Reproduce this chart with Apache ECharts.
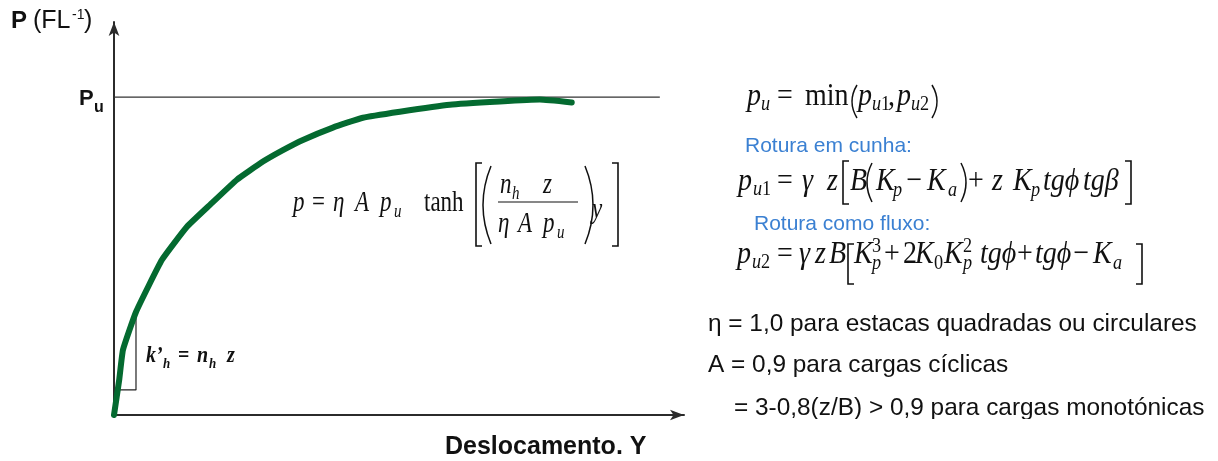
<!DOCTYPE html>
<html>
<head>
<meta charset="utf-8">
<script src="https://cdn.jsdelivr.net/npm/echarts@6/dist/echarts.min.js"></script>
<style>
  html, body { margin: 0; padding: 0; background: #fff; }
  #chart { width: 1218px; height: 461px; }
</style>
</head>
<body>
<div id="chart"></div>
<script>
// p-y curve: lateral displacement Y against soil reaction P (P expressed as a fraction of Pu)
const displacement = [0, 0.9, 1.56, 3.82, 8.33, 12.67, 16.67, 21.35, 25.87, 29.34, 32.81, 38.02, 43.23, 49.65, 58.33, 67.0, 73.96, 79.5];
const reaction     = [0, 0.11, 0.205, 0.324, 0.488, 0.592, 0.661, 0.740, 0.797, 0.833, 0.865, 0.904, 0.935, 0.954, 0.976, 0.986, 0.992, 0.983];

// ultimate resistance Pu and the extent of its reference line
const ultimate = 1;
const ultimateLineEnd = [0, 94.8];

// initial stiffness triangle k'h = nh z
const slopeX = [0.7, 3.82, 3.82];
const slopeY = [0.079, 0.079, 0.324];

const xMax = 99;
const yMax = 1.236;

const SERIF = '"Liberation Serif", "Times New Roman", serif';
const SANS = '"Liberation Sans", Arial, sans-serif';

// one glyph run placed on a baseline (optionally stretched vertically about that baseline)
function run(x, base, text, size, o) {
  o = o || {};
  const sy = o.sy || 1;
  return {
    type: 'text', x: x, y: base - 0.34 * size * sy, scaleY: sy, silent: true, z: 10,
    style: {
      text: text,
      fontSize: size,
      fontFamily: o.family || SERIF,
      fontStyle: o.italic ? 'italic' : 'normal',
      fontWeight: o.bold ? 'bold' : 'normal',
      fill: o.color || '#111',
      align: 'left', verticalAlign: 'middle',
      textAlign: 'left', textVerticalAlign: 'middle'
    }
  };
}

// formula tokens: [x, baseline shift, text, size factor, style flags]
function formula(base, size, sy, tokens, bold) {
  return tokens.map(function (t) {
    const flags = t[4] || 'i';
    return run(t[0], base + t[1], t[2], size * t[3], {
      italic: flags.indexOf('i') >= 0,
      bold: bold,
      sy: sy
    });
  });
}

function stroke(points, w) {
  return { type: 'polyline', silent: true, z: 10, shape: { points: points },
           style: { stroke: '#111', lineWidth: w || 1.3, fill: null } };
}
function paren(x, y0, y1, bulge) {
  return { type: 'bezierCurve', silent: true, z: 10,
           shape: { x1: x, y1: y0, x2: x, y2: y1, cpx1: x + bulge, cpy1: (y0 + y1) / 2 },
           style: { stroke: '#111', lineWidth: 1.5, fill: null } };
}
function bracket(x, y0, y1, dir) {
  return stroke([[x + 6 * dir, y0], [x, y0], [x, y1], [x + 6 * dir, y1]], 1.6);
}

const graphics = [];

// axis captions
graphics.push(run(11, 30, 'P', 24, { family: SANS, bold: true }));
graphics.push(run(33, 30, '(FL', 25, { family: SANS }));
graphics.push(run(72, 20, '-1', 14, { family: SANS }));
graphics.push(run(84, 30, ')', 25, { family: SANS }));
graphics.push(run(79, 106, 'P', 22, { family: SANS, bold: true }));
graphics.push(run(94, 113, 'u', 16, { family: SANS, bold: true }));
graphics.push(run(445, 456, 'Deslocamento. Y', 25, { family: SANS, bold: true }));

// k'h = nh z
graphics.push.apply(graphics, formula(364, 20, 1.15, [
  [146, 0, 'k', 1], [156, 0, '\u2019', 1], [163, 5, 'h', 0.65],
  [178, 0, '=', 1, 'r'], [197, 0, 'n', 1], [209, 5, 'h', 0.65], [227, 0, 'z', 1]
], true));

// p = eta A pu tanh[(nh z / eta A pu) y]
const SY = 1.3;
graphics.push.apply(graphics, formula(213, 23, SY, [
  [293, 0, 'p', 1], [312, 0, '=', 1, 'r'], [333, 0, '\u03b7', 1], [355, 0, 'A', 1],
  [380, 0, 'p', 1], [394, 5, 'u', 0.65], [424, 0, 'tanh', 1, 'r']
]));
graphics.push.apply(graphics, formula(195, 23, SY, [
  [500, 0, 'n', 1], [512, 5, 'h', 0.65], [543, 0, 'z', 1]
]));
graphics.push.apply(graphics, formula(234, 23, SY, [
  [498, 0, '\u03b7', 1], [518, 0, 'A', 1], [543, 0, 'p', 1], [557, 5, 'u', 0.65]
]));
graphics.push.apply(graphics, formula(220, 23, SY, [[592, 0, 'y', 1]]));
graphics.push(stroke([[498, 202], [578, 202]], 1.2));
graphics.push(bracket(476, 163, 246, 1));
graphics.push(bracket(618, 163, 246, -1));
graphics.push(paren(491, 166, 244, -16));
graphics.push(paren(585, 166, 244, 16));

// pu = min(pu1, pu2)
const SR = 1.15;
graphics.push.apply(graphics, formula(107, 28, SR, [
  [747, 0, 'p', 1], [761, 5, 'u', 0.65], [777, 0, '=', 1, 'r'], [805, 0, 'min', 1, 'r'],
  [858, 0, 'p', 1], [872, 5, 'u', 0.65], [881, 5, '1', 0.65, 'r'], [888, 0, ',', 1, 'r'],
  [897, 0, 'p', 1], [911, 5, 'u', 0.65], [920, 5, '2', 0.65, 'r']
]));
graphics.push(paren(857, 85, 118, -10));
graphics.push(paren(932, 85, 118, 10));

graphics.push(run(745, 153, 'Rotura em cunha:', 21, { family: SANS, color: '#3b80d2' }));

// pu1 = gamma z [B(Kp - Ka) + z Kp tg(phi) tg(beta)]
graphics.push.apply(graphics, formula(192, 28, SR, [
  [738, 0, 'p', 1], [753, 5, 'u', 0.65], [762, 5, '1', 0.65, 'r'], [777, 0, '=', 1, 'r'],
  [802, 0, '\u03b3', 1], [827, 0, 'z', 1], [850, 0, 'B', 1],
  [876, 0, 'K', 1], [893, 6, 'p', 0.65], [906, 0, '\u2212', 1, 'r'],
  [927, 0, 'K', 1], [948, 6, 'a', 0.65], [968, 0, '+', 1, 'r'], [992, 0, 'z', 1],
  [1013, 0, 'K', 1], [1031, 6, 'p', 0.65], [1043, 0, 'tg\u03d5', 1], [1083, 0, 'tg\u03b2', 1]
]));
graphics.push(bracket(843, 161, 204, 1));
graphics.push(bracket(1131, 161, 204, -1));
graphics.push(paren(872, 163, 202, -10));
graphics.push(paren(961, 163, 202, 10));

graphics.push(run(754, 231, 'Rotura como fluxo:', 21, { family: SANS, color: '#3b80d2' }));

// pu2 = gamma z B [Kp^3 + 2 K0 Kp^2 tg(phi) + tg(phi) - Ka]
graphics.push.apply(graphics, formula(265, 28, SR, [
  [737, 0, 'p', 1], [752, 5, 'u', 0.65], [761, 5, '2', 0.65, 'r'], [777, 0, '=', 1, 'r'],
  [799, 0, '\u03b3', 1], [815, 0, 'z', 1], [829, 0, 'B', 1],
  [854, 0, 'K', 1], [872, -11, '3', 0.65, 'r'], [872, 6, 'p', 0.65],
  [884, 0, '+', 1, 'r'], [903, 0, '2', 1, 'r'], [915, 0, 'K', 1], [934, 6, '0', 0.65, 'r'],
  [944, 0, 'K', 1], [963, -11, '2', 0.65, 'r'], [963, 6, 'p', 0.65],
  [980, 0, 'tg\u03d5', 1], [1017, 0, '+', 1, 'r'], [1035, 0, 'tg\u03d5', 1],
  [1073, 0, '\u2212', 1, 'r'], [1093, 0, 'K', 1], [1113, 6, 'a', 0.65]
]));
graphics.push(bracket(848, 244, 284, 1));
graphics.push(bracket(1142, 244, 284, -1));

// parameter notes
graphics.push(run(708, 333, '\u03b7 = 1,0 para estacas quadradas ou circulares', 24.4, { family: SANS }));
graphics.push(run(708, 374, 'A = 0,9 para cargas c\u00edclicas', 24.4, { family: SANS }));
graphics.push(run(734, 417, '= 3-0,8(z/B) > 0,9 para cargas monot\u00f3nicas', 24.4, { family: SANS }));
// page edge trims the last note line
graphics.push({ type: 'rect', silent: true, z: 20, shape: { x: 700, y: 419, width: 518, height: 42 },
                style: { fill: '#fff' } });

const axisCommon = {
  type: 'value',
  axisLine: { show: true, onZero: false, symbol: ['none', 'arrow'], symbolSize: [8, 14],
              lineStyle: { color: '#2b2b2b', width: 2 } },
  axisTick: { show: false },
  axisLabel: { show: false },
  splitLine: { show: false }
};

const chart = echarts.init(document.getElementById('chart'), null, { renderer: 'canvas' });
chart.setOption({
  animation: false,
  backgroundColor: '#fff',
  grid: { left: 114, top: 22, right: 534, bottom: 46 },
  xAxis: Object.assign({}, axisCommon, { min: 0, max: xMax }),
  yAxis: Object.assign({}, axisCommon, { min: 0, max: yMax }),
  series: [
    {
      type: 'line',
      data: ultimateLineEnd.map(function (x) { return [x, ultimate]; }),
      showSymbol: false, silent: true,
      lineStyle: { color: '#333', width: 1.3 }
    },
    {
      type: 'line',
      data: slopeX.map(function (x, i) { return [x, slopeY[i]]; }),
      showSymbol: false, silent: true,
      lineStyle: { color: '#222', width: 1.2 }
    },
    {
      type: 'line',
      data: displacement.map(function (x, i) { return [x, reaction[i]]; }),
      showSymbol: false, silent: true, smooth: 0.12,
      lineStyle: { color: '#046a30', width: 6, cap: 'round', join: 'round' }
    }
  ],
  graphic: graphics
});
</script>
</body>
</html>
